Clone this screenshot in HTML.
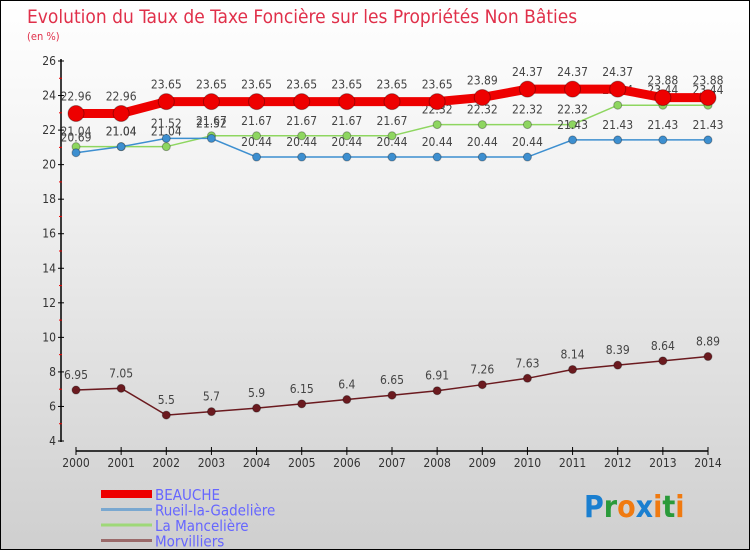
<!DOCTYPE html>
<html><head><meta charset="utf-8"><style>
body{margin:0}
#c{position:relative;width:748px;height:548px;border:1px solid #000;background:linear-gradient(#fff,#f3f3f3 30%,#cfcfcf);font-family:"DejaVu Sans Condensed","Liberation Sans",sans-serif;overflow:hidden}
svg text{font-family:"DejaVu Sans Condensed","Liberation Sans",sans-serif}
</style></head><body>
<div id="c">
<svg id="s" width="748" height="548" xmlns="http://www.w3.org/2000/svg">
<text x="26" y="22" font-size="19" fill="#e0304a">Evolution du Taux de Taxe Foncière sur les Propriétés Non Bâties</text>
<text x="26" y="39" font-size="11" fill="#e0304a">(en %)</text>
<g id="axes"></g><g id="series"></g>
<g id="legend"></g>
<text x="583" y="516" font-size="30" font-weight="bold"><tspan fill="#1a7fd0">P</tspan><tspan fill="#2a9a3a">r</tspan><tspan fill="#f07a10">o</tspan><tspan fill="#1a7fd0">x</tspan><tspan fill="#f07a10">i</tspan><tspan fill="#2a9a3a">t</tspan><tspan fill="#f07a10">i</tspan></text>
</svg></div>
<script>
const years=[2000,2001,2002,2003,2004,2005,2006,2007,2008,2009,2010,2011,2012,2013,2014];
const yTicks=[4,6,8,10,12,14,16,18,20,22,24,26];
const beauche=[22.96,22.96,23.65,23.65,23.65,23.65,23.65,23.65,23.65,23.89,24.37,24.37,24.37,23.88,23.88];
const rueil=[20.69,21.04,21.52,21.52,20.44,20.44,20.44,20.44,20.44,20.44,20.44,21.43,21.43,21.43,21.43];
const mancel=[21.04,21.04,21.04,21.67,21.67,21.67,21.67,21.67,22.32,22.32,22.32,22.32,23.44,23.44,23.44];
const morv=[6.95,7.05,5.5,5.7,5.9,6.15,6.4,6.65,6.91,7.26,7.63,8.14,8.39,8.64,8.89];
const NS="http://www.w3.org/2000/svg";
const xs=i=>75+i*(632/14);
const ys=v=>440-(v-4)*(380/22);
function mk(p,t,a){const e=document.createElementNS(NS,t);for(const k in a)e.setAttribute(k,a[k]);p.appendChild(e);return e;}
const ax=document.getElementById('axes');
const yl=mk(ax,'line',{x1:60,y1:58,x2:60,y2:441,stroke:'#000','stroke-width':1.5});


const xl=mk(ax,'line',{x1:75,y1:450,x2:707,y2:450,stroke:'#000','stroke-width':1.5});


yTicks.forEach(v=>{mk(ax,'line',{x1:57,x2:63,y1:ys(v),y2:ys(v),stroke:'#000'});
 if(v<26)mk(ax,'line',{x1:58,x2:61,y1:ys(v+1),y2:ys(v+1),stroke:'#e00'});
 const t=mk(ax,'text',{x:55,y:ys(v)+4,'font-size':12,'text-anchor':'end',fill:'#333'});t.textContent=v;
 
 });
years.forEach((y,i)=>{mk(ax,'line',{x1:xs(i),x2:xs(i),y1:446,y2:454,stroke:'#000'});
 const t=mk(ax,'text',{x:xs(i),y:466,'font-size':12,'text-anchor':'middle',fill:'#333'});t.textContent=y;
 
 });
const sg=document.getElementById('series');
function series(vals,color,w,r,name,dy){
 const g=mk(sg,'g',{});
 
 
 mk(g,'polyline',{points:vals.map((v,i)=>xs(i)+','+ys(v)).join(' '),fill:'none',stroke:color,'stroke-width':w});
 vals.forEach((v,i)=>{const c=mk(g,'circle',{cx:xs(i),cy:ys(v),r:r,fill:color,stroke:'rgba(0,0,0,0.3)'});
  
  
  const t=mk(g,'text',{x:xs(i),y:ys(v)+dy,'font-size':12,'text-anchor':'middle',fill:'#444'});t.textContent=v;
  
  });
}
series(morv,'#6b1a1f',1.5,4,'morvilliers-series',-11);
series(mancel,'#8ed660',1.5,4,'la-manceliere-series',-11);
series(rueil,'#3d8fd0',1.5,4,'rueil-series',-11);
series(beauche,'#ee0000',9,8,'beauche-series',-13);
const lg=document.getElementById('legend');
[['BEAUCHE','#ee0000',8],['Rueil-la-Gadelière','#7aa8d0',3],['La Mancelière','#9ed878',3],['Morvilliers','#9a6a6a',3]].forEach((d,i)=>{
 const y=493+i*15.5;
 mk(lg,'line',{x1:100,x2:151,y1:y,y2:y,stroke:d[1],'stroke-width':d[2]});
 const t=mk(lg,'text',{x:154,y:y+6,'font-size':15,fill:'#6666ff'});t.textContent=d[0];
 
 
});
</script>
</body></html>
